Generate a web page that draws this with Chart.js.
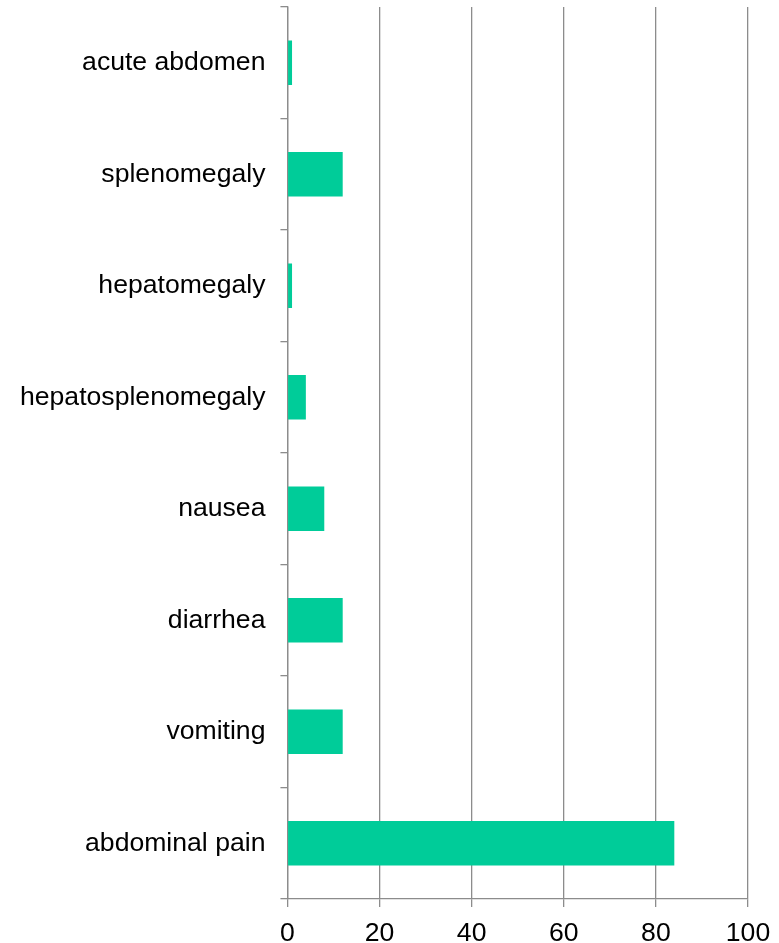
<!DOCTYPE html>
<html>
<head>
<meta charset="utf-8">
<script src="https://cdn.jsdelivr.net/npm/chart.js@4"></script>
<style>
  html, body { margin: 0; padding: 0; background: #fff; }
  #wrap { width: 779px; height: 943px; }
</style>
</head>
<body>
<div id="wrap"><canvas id="symptoms-chart"></canvas></div>
<script>
// Symptoms, listed top to bottom as they appear on the chart
const symptoms = ['acute abdomen', 'splenomegaly', 'hepatomegaly', 'hepatosplenomegaly',
                  'nausea', 'diarrhea', 'vomiting', 'abdominal pain'];
const counts = [1, 12, 1, 4, 8, 12, 12, 84];
const xTicks = [0, 20, 40, 60, 80, 100];

const gridGray = '#8c8c8c';
const labelFont = { family: 'Liberation Sans', size: 26.6, lineHeight: 1 };

document.addEventListener('DOMContentLoaded', () => {
    const ctx = document.getElementById('symptoms-chart');
    new Chart(ctx, {
        type: 'bar',
        data: {
            labels: symptoms,
            datasets: [{
                data: counts,
                backgroundColor: '#00cc99',
                borderWidth: 0,
                barPercentage: 0.4,
                categoryPercentage: 1
            }]
        },
        options: {
            indexAxis: 'y',
            responsive: true,
            maintainAspectRatio: false,
            animation: false,
            layout: { padding: { top: 7, left: 5, right: 31, bottom: 0 } },
            plugins: {
                legend: { display: false },
                tooltip: { enabled: false }
            },
            scales: {
                x: {
                    min: 0,
                    max: 100,
                    afterBuildTicks: axis => { axis.ticks = xTicks.map(v => ({ value: v })); },
                    // tick mark + gap + one line of labels; "100" may run past the edge
                    afterFit: scale => {
                        scale.height = 44;
                        scale.paddingRight = 0;
                    },
                    grid: {
                        color: gridGray,
                        lineWidth: 1.3,
                        drawTicks: true,
                        tickLength: 8
                    },
                    border: { display: true, color: gridGray, width: 1.3 },
                    ticks: {
                        color: '#000',
                        padding: 13,
                        font: labelFont
                    }
                },
                y: {
                    // category labels sit between boundary ticks, so no extra room above/below
                    afterFit: scale => { scale.paddingTop = 0; scale.paddingBottom = 0; },
                    grid: {
                        offset: true,
                        drawOnChartArea: false,
                        drawTicks: true,
                        tickLength: 7,
                        color: gridGray,
                        lineWidth: 1.3
                    },
                    border: { display: true, color: gridGray, width: 1.3 },
                    ticks: {
                        color: '#000',
                        padding: 15,
                        font: labelFont
                    }
                }
            }
        }
    });
});
</script>
</body>
</html>
